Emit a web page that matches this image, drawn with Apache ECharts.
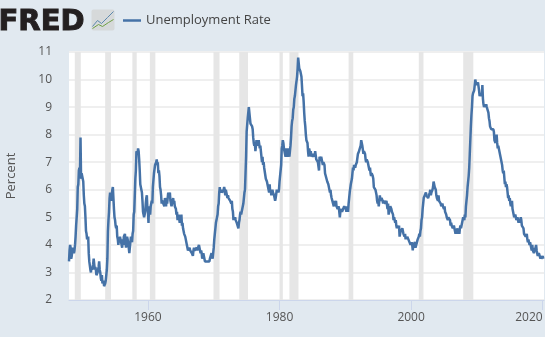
<!doctype html>
<html lang="en">

<head>
	<meta charset="UTF-8">
	<title>Unemployment Rate</title>
	<script src="https://cdn.jsdelivr.net/npm/echarts@6/dist/echarts.min.js"></script>
	<style>
		html,
		body {
			margin: 0;
			padding: 0;
			width: 100%;
			height: 100%;
			background: #e1e9f0;
		}

		#main {
			width: 545px;
			height: 337px;
		}
	</style>
</head>

<body>
	<div id="main"></div>
	<script type="text/javascript">
		var startYear = 1948;
		// monthly percent, one row per year
		var unrate = [
			3.4, 3.8, 4.0, 3.9, 3.5, 3.6, 3.6, 3.9, 3.8, 3.7, 3.8, 4.0,
			4.3, 4.7, 5.0, 5.3, 6.1, 6.2, 6.7, 6.8, 6.6, 7.9, 6.4, 6.6,
			6.5, 6.4, 6.3, 5.8, 5.5, 5.4, 5.0, 4.5, 4.4, 4.2, 4.2, 4.3,
			3.7, 3.4, 3.4, 3.1, 3.0, 3.2, 3.1, 3.1, 3.3, 3.5, 3.5, 3.1,
			3.2, 3.1, 2.9, 2.9, 3.0, 3.0, 3.2, 3.4, 3.1, 3.0, 2.8, 2.7,
			2.9, 2.6, 2.6, 2.7, 2.5, 2.5, 2.6, 2.7, 2.9, 3.1, 3.5, 4.5,
			4.9, 5.2, 5.7, 5.9, 5.9, 5.6, 5.8, 6.0, 6.1, 5.7, 5.3, 5.0,
			4.9, 4.7, 4.6, 4.7, 4.3, 4.2, 4.0, 4.2, 4.1, 4.3, 4.2, 4.2,
			4.0, 3.9, 4.2, 4.0, 4.3, 4.3, 4.4, 4.1, 3.9, 3.9, 4.3, 4.2,
			4.2, 3.9, 3.7, 3.9, 4.1, 4.3, 4.2, 4.1, 4.4, 4.5, 5.1, 5.2,
			5.8, 6.4, 6.7, 7.4, 7.4, 7.3, 7.5, 7.4, 7.1, 6.7, 6.2, 6.2,
			6.0, 5.9, 5.6, 5.2, 5.1, 5.0, 5.1, 5.2, 5.5, 5.7, 5.8, 5.3,
			5.2, 4.8, 5.4, 5.2, 5.1, 5.4, 5.5, 5.6, 5.5, 6.1, 6.1, 6.6,
			6.6, 6.9, 6.9, 7.0, 7.1, 6.9, 7.0, 6.6, 6.7, 6.5, 6.1, 6.0,
			5.8, 5.5, 5.6, 5.6, 5.5, 5.5, 5.4, 5.7, 5.6, 5.4, 5.7, 5.5,
			5.7, 5.9, 5.7, 5.7, 5.9, 5.6, 5.6, 5.4, 5.5, 5.5, 5.7, 5.5,
			5.6, 5.4, 5.4, 5.3, 5.1, 5.2, 4.9, 5.0, 5.1, 5.1, 4.8, 5.0,
			4.9, 5.1, 4.7, 4.8, 4.6, 4.6, 4.4, 4.4, 4.3, 4.2, 4.1, 4.0,
			4.0, 3.8, 3.8, 3.8, 3.9, 3.8, 3.8, 3.8, 3.7, 3.7, 3.6, 3.8,
			3.9, 3.8, 3.8, 3.8, 3.8, 3.9, 3.8, 3.8, 3.8, 4.0, 3.9, 3.8,
			3.7, 3.8, 3.7, 3.5, 3.5, 3.7, 3.7, 3.5, 3.4, 3.4, 3.4, 3.4,
			3.4, 3.4, 3.4, 3.4, 3.4, 3.5, 3.5, 3.5, 3.7, 3.7, 3.5, 3.5,
			3.9, 4.2, 4.4, 4.6, 4.8, 4.9, 5.0, 5.1, 5.4, 5.5, 5.9, 6.1,
			5.9, 5.9, 6.0, 5.9, 5.9, 5.9, 6.0, 6.1, 6.0, 5.8, 6.0, 6.0,
			5.8, 5.7, 5.8, 5.7, 5.7, 5.7, 5.6, 5.6, 5.5, 5.6, 5.3, 5.2,
			4.9, 5.0, 4.9, 5.0, 4.9, 4.9, 4.8, 4.8, 4.8, 4.6, 4.8, 4.9,
			5.1, 5.2, 5.1, 5.1, 5.1, 5.4, 5.5, 5.5, 5.9, 6.0, 6.6, 7.2,
			8.1, 8.1, 8.6, 8.8, 9.0, 8.8, 8.6, 8.4, 8.4, 8.4, 8.3, 8.2,
			7.9, 7.7, 7.6, 7.7, 7.4, 7.6, 7.8, 7.8, 7.6, 7.7, 7.8, 7.8,
			7.5, 7.6, 7.4, 7.2, 7.0, 7.2, 6.9, 7.0, 6.8, 6.8, 6.8, 6.4,
			6.4, 6.3, 6.3, 6.1, 6.0, 5.9, 6.2, 5.9, 6.0, 5.8, 5.9, 6.0,
			5.9, 5.9, 5.8, 5.8, 5.6, 5.7, 5.7, 6.0, 5.9, 6.0, 5.9, 6.0,
			6.3, 6.3, 6.3, 6.9, 7.5, 7.6, 7.8, 7.7, 7.5, 7.5, 7.5, 7.2,
			7.5, 7.4, 7.4, 7.2, 7.5, 7.5, 7.2, 7.4, 7.6, 7.9, 8.3, 8.5,
			8.6, 8.9, 9.0, 9.3, 9.4, 9.6, 9.8, 9.8, 10.1, 10.4, 10.8, 10.8,
			10.4, 10.4, 10.3, 10.2, 10.1, 10.1, 9.4, 9.5, 9.2, 8.8, 8.5, 8.3,
			8.0, 7.8, 7.8, 7.7, 7.4, 7.2, 7.5, 7.5, 7.3, 7.4, 7.2, 7.3,
			7.3, 7.2, 7.2, 7.3, 7.2, 7.4, 7.4, 7.1, 7.1, 7.1, 7.0, 7.0,
			6.7, 7.2, 7.2, 7.1, 7.2, 7.2, 7.0, 6.9, 7.0, 7.0, 6.9, 6.6,
			6.6, 6.6, 6.6, 6.3, 6.3, 6.2, 6.1, 6.0, 5.9, 6.0, 5.8, 5.7,
			5.7, 5.7, 5.7, 5.4, 5.6, 5.4, 5.4, 5.6, 5.4, 5.4, 5.3, 5.3,
			5.4, 5.2, 5.0, 5.2, 5.2, 5.3, 5.2, 5.2, 5.3, 5.3, 5.4, 5.4,
			5.4, 5.3, 5.2, 5.4, 5.4, 5.2, 5.5, 5.7, 5.9, 5.9, 6.2, 6.3,
			6.4, 6.6, 6.8, 6.7, 6.9, 6.9, 6.8, 6.9, 6.9, 7.0, 7.0, 7.3,
			7.3, 7.4, 7.4, 7.4, 7.6, 7.8, 7.7, 7.6, 7.6, 7.3, 7.4, 7.4,
			7.3, 7.1, 7.0, 7.1, 7.1, 7.0, 6.9, 6.8, 6.7, 6.8, 6.6, 6.5,
			6.6, 6.6, 6.5, 6.4, 6.1, 6.1, 6.1, 6.0, 5.9, 5.8, 5.6, 5.5,
			5.6, 5.4, 5.4, 5.8, 5.6, 5.6, 5.7, 5.7, 5.6, 5.5, 5.6, 5.6,
			5.6, 5.5, 5.5, 5.6, 5.6, 5.3, 5.5, 5.1, 5.2, 5.2, 5.4, 5.4,
			5.3, 5.2, 5.2, 5.1, 4.9, 5.0, 4.9, 4.8, 4.9, 4.7, 4.6, 4.7,
			4.6, 4.6, 4.7, 4.3, 4.4, 4.5, 4.5, 4.5, 4.6, 4.5, 4.4, 4.4,
			4.3, 4.4, 4.2, 4.3, 4.2, 4.3, 4.3, 4.2, 4.2, 4.1, 4.1, 4.0,
			4.0, 4.1, 4.0, 3.8, 4.0, 4.0, 4.0, 4.1, 3.9, 3.9, 3.9, 3.9,
			4.2, 4.2, 4.3, 4.4, 4.3, 4.5, 4.6, 4.9, 5.0, 5.3, 5.5, 5.7,
			5.7, 5.7, 5.7, 5.9, 5.8, 5.8, 5.8, 5.7, 5.7, 5.7, 5.9, 6.0,
			5.8, 5.9, 5.9, 6.0, 6.1, 6.3, 6.2, 6.1, 6.1, 6.0, 5.8, 5.7,
			5.7, 5.6, 5.8, 5.6, 5.6, 5.6, 5.5, 5.4, 5.4, 5.5, 5.4, 5.4,
			5.3, 5.4, 5.2, 5.2, 5.1, 5.0, 5.0, 4.9, 5.0, 5.0, 5.0, 4.9,
			4.7, 4.8, 4.7, 4.7, 4.6, 4.6, 4.7, 4.7, 4.5, 4.4, 4.5, 4.4,
			4.6, 4.5, 4.4, 4.5, 4.4, 4.6, 4.7, 4.6, 4.7, 4.7, 4.7, 5.0,
			5.0, 4.9, 5.1, 5.0, 5.4, 5.6, 5.8, 6.1, 6.1, 6.5, 6.8, 7.3,
			7.8, 8.3, 8.7, 9.0, 9.4, 9.5, 9.5, 9.6, 9.8, 10.0, 9.9, 9.9,
			9.8, 9.8, 9.9, 9.9, 9.6, 9.4, 9.4, 9.5, 9.5, 9.4, 9.8, 9.3,
			9.1, 9.0, 9.0, 9.1, 9.0, 9.1, 9.0, 9.0, 9.0, 8.8, 8.6, 8.5,
			8.3, 8.3, 8.2, 8.2, 8.2, 8.2, 8.2, 8.1, 7.8, 7.8, 7.7, 7.9,
			8.0, 7.7, 7.5, 7.6, 7.5, 7.5, 7.3, 7.2, 7.2, 7.2, 6.9, 6.7,
			6.6, 6.7, 6.7, 6.2, 6.3, 6.1, 6.2, 6.1, 5.9, 5.7, 5.8, 5.6,
			5.7, 5.5, 5.4, 5.4, 5.6, 5.3, 5.2, 5.1, 5.0, 5.0, 5.1, 5.0,
			4.9, 4.9, 5.0, 5.0, 4.8, 4.9, 4.8, 4.9, 5.0, 4.9, 4.7, 4.7,
			4.7, 4.6, 4.4, 4.4, 4.4, 4.3, 4.3, 4.4, 4.2, 4.1, 4.2, 4.1,
			4.0, 4.1, 4.0, 4.0, 3.8, 4.0, 3.8, 3.8, 3.7, 3.8, 3.8, 3.9,
			4.0, 3.8, 3.8, 3.6, 3.6, 3.7, 3.7, 3.7, 3.5, 3.6, 3.5, 3.5,
			3.6, 3.5
		];
		var recessionStarts = [1948.88, 1953.5, 1957.63, 1960.29, 1969.96, 1973.88, 1980.0, 1981.5, 1990.5, 2001.17, 2007.92];
		var recessionEnds = [1949.79, 1954.38, 1958.29, 1961.13, 1970.88, 1975.21, 1980.5, 1982.88, 1991.21, 2001.88, 2009.46];
		var xTicks = [1960, 1980, 2000, 2020];

		var myChart = echarts.init(document.getElementById('main'), null, { renderer: 'canvas' });
		var fontName = '"Open Sans"';

		var lineData = unrate.map(function (v, i) {
			return [startYear + i / 12, v];
		});
		var recessions = recessionStarts.map(function (s, i) {
			return [{ xAxis: s }, { xAxis: recessionEnds[i] }];
		});

		var option = {
			backgroundColor: '#e1e9f0',
			animation: false,
			textStyle: { fontFamily: fontName },
			legend: {
				left: 118,
				top: 9,
				icon: 'rect',
				itemWidth: 18,
				itemHeight: 2.5,
				itemGap: 0,
				textStyle: { color: '#444444', fontSize: 13, fontFamily: fontName }
			},
			grid: {
				show: true,
				left: 69,
				right: 1,
				top: 52,
				bottom: 37,
				outerBoundsMode: 'none',
				backgroundColor: '#ffffff',
				borderWidth: 0
			},
			xAxis: {
				type: 'value',
				min: startYear,
				max: 2020.2,
				splitLine: { show: false },
				axisLine: { show: true, lineStyle: { color: '#ccd6eb', width: 1 } },
				axisTick: { show: true, customValues: xTicks, length: 10, lineStyle: { color: '#ccd6eb' } },
				axisLabel: {
					customValues: xTicks,
					alignMaxLabel: 'right',
					color: '#555555',
					fontSize: 12,
					margin: 12,
					fontFamily: fontName,
					formatter: function (v) { return String(v); }
				}
			},
			yAxis: {
				type: 'value',
				min: 2,
				max: 11,
				interval: 1,
				name: 'Percent',
				nameLocation: 'middle',
				nameGap: 51,
				nameTextStyle: { color: '#555555', fontSize: 13, fontFamily: fontName },
				axisLine: { show: false },
				axisTick: { show: false },
				axisLabel: { color: '#555555', fontSize: 12, margin: 17, fontFamily: fontName },
				splitLine: { show: true, lineStyle: { color: '#efefef', width: 2 } }
			},
			series: [
				{
					name: 'Unemployment Rate',
					type: 'line',
					data: lineData,
					showSymbol: false,
					clip: true,
					itemStyle: { color: '#4572a7' },
					lineStyle: { color: '#4572a7', width: 2.5 },
					markArea: {
						silent: true,
						itemStyle: { color: '#e6e6e6' },
						data: recessions
					}
				}
			],
			graphic: [
				{
					type: 'text',
					left: -2,
					top: 7,
					style: { text: 'FRED', fontFamily: '"DejaVu Sans"', fontWeight: 'bold', fontSize: 29, fill: '#231f20', stroke: '#231f20', lineWidth: 1 }
				},
				{
					type: 'group',
					left: 90,
					top: 9,
					children: [
						{ type: 'rect', shape: { x: 0, y: 0, width: 23, height: 21, r: 2 }, style: { fill: '#d6d9da' } },
						{ type: 'polyline', shape: { points: [[1, 17], [6, 11], [10, 14], [16, 8], [22, 2]] }, style: { stroke: '#5c88ad', fill: null, lineWidth: 1 } },
						{ type: 'polyline', shape: { points: [[1, 19], [7, 15], [11, 17], [17, 13], [22, 10]] }, style: { stroke: '#6f9f45', fill: null, lineWidth: 1 } }
					]
				}
			]
		};
		myChart.setOption(option);
	</script>
</body>

</html>
